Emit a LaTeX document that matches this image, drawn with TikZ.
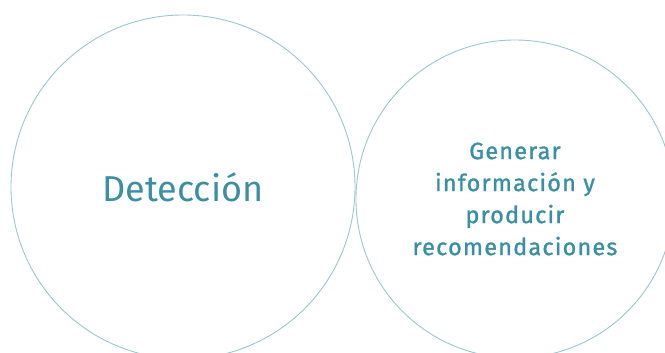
\documentclass[tikz,border=0pt]{standalone}
\usepackage{fontspec}
\setmainfont{Fira Sans}
\usepackage{xcolor}
\definecolor{ringcol}{HTML}{98C6D1}
\definecolor{txtcol}{HTML}{3A8FA4}

\begin{document}
\begin{tikzpicture}[x=1pt, y=1pt]
 	\useasboundingbox (0,0) rectangle (665,353);
 	\clip (0,0) rectangle (665,353);
 	% Circles
 	\node[circle, draw=ringcol, line width=0.9pt, minimum size=344pt, inner sep=0pt, text=txtcol, font=\fontsize{36}{36}\selectfont] (det) at (183,166) {Detección};
 	\node[circle, draw=ringcol, line width=0.9pt, minimum size=318pt, inner sep=0pt, text=txtcol, align=center, font=\addfontfeature{LetterSpace=5,FakeBold=1.2}\fontsize{23.5}{32}\selectfont] (gen) at (515,154) {Generar\\información y\\producir\\recomendaciones};
\end{tikzpicture}
\end{document}
